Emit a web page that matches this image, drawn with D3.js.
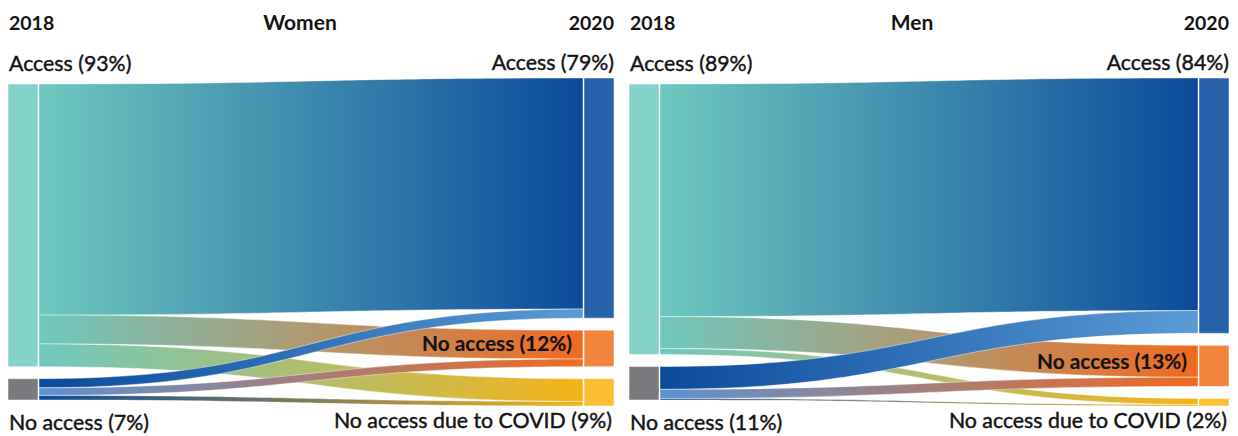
<!DOCTYPE html>
<html>
<head>
<meta charset="utf-8">
<script src="https://cdn.jsdelivr.net/npm/d3@7"></script>
<style>
  html, body { margin: 0; padding: 0; background: #fff; }
  svg { display: block; }
  text { font-family: Lato, "Open Sans", sans-serif; fill: #141414; }
</style>
</head>
<body>
<svg id="chart" width="1238" height="436"></svg>
<script>
// ---- data -------------------------------------------------------------
const years = ["2018", "2020"];
const panelNames = ["Women", "Men"];
const states2018 = ["Access", "No access"];
const states2020 = ["Access", "No access", "No access due to COVID"];

// share of the population (%) moving from a 2018 state (row) to a 2020 state (column)
const womenFlows = [
  [76, 9.5, 7.5],
  [3, 2.5, 1.5]
];
const menFlows = [
  [76.5, 10.5, 2],
  [7.5, 3, 0.5]
];

const womenLabels2018 = ["Access (93%)", "No access (7%)"];
const womenLabels2020 = ["Access (79%)", "No access (12%)", "No access due to COVID (9%)"];
const menLabels2018 = ["Access (89%)", "No access (11%)"];
const menLabels2020 = ["Access (84%)", "No access (13%)", "No access due to COVID (2%)"];

// ---- layout & style ---------------------------------------------------
const nodeWidth = 30;
const nodePad = 12;
const centerY = 242;
const panelsLayout = [
  { x0: 8, x1: 614, titleX: 300 },
  { x0: 629, x1: 1229, titleX: 912 }
];

const nodeColor2018 = ["#84d3cb", "#7a7a7e"];
const nodeColor2020 = ["#2761a9", "#f3843d", "#fbbe36"];
// gradient end-points of each ribbon, [from 2018 state][to 2020 state]
const ribbonColors = [
  [["#6fc8c0", "#0b4a9a"], ["#6fc8c0", "#f06a20"], ["#6fc8c0", "#f5b317"]],
  [["#0b4a9a", "#5b9bd5"], ["#5b93d2", "#f06a20"], ["#0b4a9a", "#f5b317"]]
];

const svg = d3.select("#chart");
const defs = svg.append("defs");

// pixels per percentage point
const hScale = d3.scaleLinear().domain([0, 100]).range([0, 304]);

function stackColumn(values) {
  const total = d3.sum(values);
  const height = hScale(total) + nodePad * (values.length - 1);
  let y = centerY - height / 2;
  return values.map(v => {
    const n = { y0: y, y1: y + hScale(v), value: v };
    y = n.y1 + nodePad;
    return n;
  });
}

function ribbonPath(xa, xb, ya0, ya1, yb0, yb1) {
  const xm = (xa + xb) / 2;
  const p = d3.path();
  p.moveTo(xa, ya0);
  p.bezierCurveTo(xm, ya0, xm, yb0, xb, yb0);
  p.lineTo(xb, yb1);
  p.bezierCurveTo(xm, yb1, xm, ya1, xa, ya1);
  p.closePath();
  return p.toString();
}

function drawPanel(idx, flows, labels18, labels20) {
  const lay = panelsLayout[idx];
  const g = svg.append("g");

  const x = d3.scaleOrdinal().domain(years).range([lay.x0, lay.x1 - nodeWidth]);

  const left = stackColumn(flows.map(r => d3.sum(r)));
  const right = stackColumn(states2020.map((_, j) => d3.sum(flows, r => r[j])));

  const xa = x(years[0]) + nodeWidth + 1;
  const xb = x(years[1]) - 1;

  // ribbons, stacked down each node in order of the opposite node
  const srcOff = left.map(n => n.y0);
  const tgtOff = right.map(n => n.y0);
  const ribbons = [];
  flows.forEach((row, i) => row.forEach((v, j) => {
    ribbons.push({ i, j, v, ys: srcOff[i], yt: 0 });
    srcOff[i] += hScale(v);
  }));
  states2020.forEach((_, j) => {
    ribbons.filter(r => r.j === j).sort((a, b) => a.i - b.i).forEach(r => {
      r.yt = tgtOff[j];
      tgtOff[j] += hScale(r.v);
    });
  });

  ribbons.forEach(r => {
    const id = `grad-${idx}-${r.i}-${r.j}`;
    const gr = defs.append("linearGradient")
      .attr("id", id)
      .attr("gradientUnits", "userSpaceOnUse")
      .attr("x1", xa).attr("x2", xb).attr("y1", 0).attr("y2", 0);
    gr.append("stop").attr("offset", "0%").attr("stop-color", ribbonColors[r.i][r.j][0]);
    gr.append("stop").attr("offset", "100%").attr("stop-color", ribbonColors[r.i][r.j][1]);
    r.id = id;
  });

  g.append("g").selectAll("path")
    .data(ribbons)
    .join("path")
    .attr("d", r => ribbonPath(xa, xb, r.ys, r.ys + hScale(r.v), r.yt, r.yt + hScale(r.v)))
    .attr("fill", r => `url(#${r.id})`)
    .attr("stroke", "#ffffff")
    .attr("stroke-opacity", 0.55)
    .attr("stroke-width", 0.8);

  // nodes
  g.append("g").selectAll("rect")
    .data(left)
    .join("rect")
    .attr("x", x(years[0]))
    .attr("y", d => d.y0)
    .attr("width", nodeWidth)
    .attr("height", d => d.y1 - d.y0)
    .attr("fill", (d, i) => nodeColor2018[i])
    .attr("stroke", "#ffffff").attr("stroke-opacity", 0.5).attr("stroke-width", 1);

  g.append("g").selectAll("rect")
    .data(right)
    .join("rect")
    .attr("x", x(years[1]))
    .attr("y", d => d.y0)
    .attr("width", nodeWidth)
    .attr("height", d => d.y1 - d.y0)
    .attr("fill", (d, i) => nodeColor2020[i])
    .attr("stroke", "#ffffff").attr("stroke-opacity", 0.5).attr("stroke-width", 1);

  // headings
  const head = g.append("g").attr("font-size", 19.5).attr("font-weight", 700);
  head.append("text").attr("x", lay.x0 + 1).attr("y", 30).text(years[0]);
  head.append("text").attr("x", lay.titleX).attr("y", 30).attr("text-anchor", "middle")
    .attr("font-size", 21).text(panelNames[idx]);
  head.append("text").attr("x", lay.x1).attr("y", 30).attr("text-anchor", "end").text(years[1]);

  // node labels (regular face with a hairline stroke for a medium weight)
  const lab = g.append("g").attr("font-size", 21.3)
    .attr("stroke", "#141414").attr("stroke-width", 0.45);
  lab.append("text").attr("x", lay.x0 + 1).attr("y", 71).text(labels18[0]);
  lab.append("text").attr("x", lay.x0 + 1).attr("y", 430).text(labels18[1]);
  lab.append("text").attr("x", lay.x1).attr("y", 70).attr("text-anchor", "end").text(labels20[0]);
  lab.append("text").attr("x", x(years[1]) - 12)
    .attr("y", (right[1].y0 + right[1].y1) / 2 + 3)
    .attr("text-anchor", "end").attr("font-weight", 700).attr("font-size", 20.8)
    .attr("stroke-width", 0.2).text(labels20[1]);
  lab.append("text").attr("x", lay.x1 - 2).attr("y", 428).attr("text-anchor", "end").text(labels20[2]);
}

drawPanel(0, womenFlows, womenLabels2018, womenLabels2020);
drawPanel(1, menFlows, menLabels2018, menLabels2020);
</script>
</body>
</html>
